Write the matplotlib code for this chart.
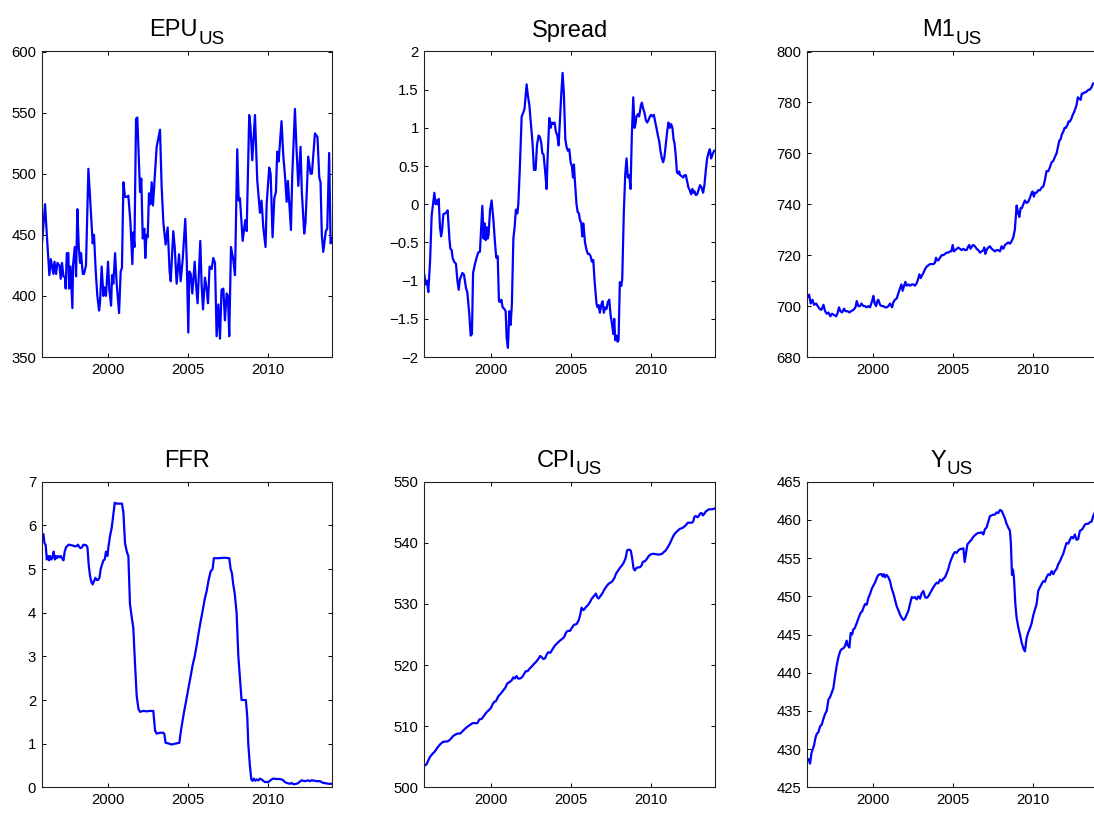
import matplotlib
matplotlib.use('Agg')
import matplotlib.pyplot as plt
from matplotlib.ticker import FuncFormatter
from matplotlib.transforms import offset_copy

plt.rcParams['font.family'] = 'Liberation Sans'

# Monthly macro series, dates in decimal years

epu_t = [1995.83, 1996.04, 1996.15, 1996.31, 1996.40, 1996.56, 1996.63, 1996.73, 1996.81, 1996.94,
         1997.02, 1997.10, 1997.19, 1997.29, 1997.33, 1997.40, 1997.50, 1997.54, 1997.63, 1997.75, 1997.79, 1997.90, 1997.98,
         1998.06, 1998.15, 1998.23, 1998.29, 1998.40, 1998.48, 1998.60, 1998.75, 1998.90,
         1999.02, 1999.10, 1999.21, 1999.31, 1999.42, 1999.48, 1999.58, 1999.69, 1999.75, 1999.85, 1999.98,
         2000.06, 2000.17, 2000.23, 2000.31, 2000.42, 2000.52, 2000.67, 2000.77, 2000.85, 2000.94,
         2001.04, 2001.15, 2001.25, 2001.38, 2001.50, 2001.56, 2001.63, 2001.73, 2001.81, 2001.94, 2001.98,
         2002.06, 2002.15, 2002.25, 2002.31, 2002.38, 2002.46, 2002.54, 2002.63, 2002.71, 2002.79, 2002.90,
         2003.02, 2003.23, 2003.33, 2003.44, 2003.58, 2003.71, 2003.83, 2003.90,
         2004.06, 2004.15, 2004.27, 2004.42, 2004.52, 2004.65, 2004.81, 2004.90,
         2005.00, 2005.06, 2005.15, 2005.25, 2005.40, 2005.48, 2005.58, 2005.75, 2005.83, 2005.92,
         2006.04, 2006.15, 2006.23, 2006.33, 2006.46, 2006.56, 2006.67, 2006.77, 2006.88, 2006.98,
         2007.08, 2007.19, 2007.29, 2007.40, 2007.48, 2007.56, 2007.67, 2007.81, 2007.92,
         2008.06, 2008.15, 2008.23, 2008.40, 2008.56, 2008.65, 2008.81, 2008.88,
         2009.00, 2009.17, 2009.31, 2009.48, 2009.58, 2009.69, 2009.83, 2009.90,
         2010.06, 2010.15, 2010.27, 2010.38, 2010.48, 2010.56, 2010.65, 2010.83, 2010.94,
         2011.06, 2011.15, 2011.23, 2011.42, 2011.50, 2011.67, 2011.77, 2011.88,
         2012.02, 2012.10, 2012.25, 2012.33, 2012.50, 2012.65, 2012.73, 2012.92,
         2013.08, 2013.19, 2013.27, 2013.35, 2013.44, 2013.60, 2013.69, 2013.81, 2013.90, 2014.00]
epu = [440, 475, 450, 417, 430, 418, 428, 418, 427, 425,
       414, 427, 416, 415, 406, 435, 435, 406, 424, 390, 425, 440, 416,
       471, 440, 427, 435, 418, 418, 425, 504, 470,
       443, 450, 420, 400, 388, 395, 424, 400, 407, 400, 428,
       405, 392, 417, 410, 435, 410, 386, 420, 423, 493,
       481, 481, 482, 460, 426, 452, 440, 545, 546, 500, 485,
       496, 447, 455, 431, 450, 448, 484, 475, 493, 474, 497,
       522, 536, 490, 460, 442, 456, 420, 412,
       453, 440, 410, 434, 412, 430, 463, 430,
       370, 420, 418, 402, 428, 410, 394, 445, 410, 389,
       415, 405, 394, 424, 422, 431, 427, 367, 393, 365,
       405, 406, 380, 402, 400, 367, 440, 430, 417,
       520, 478, 480, 445, 462, 453, 548, 540,
       511, 548, 495, 468, 478, 456, 440, 475,
       505, 500, 448, 480, 485, 518, 510, 543, 515,
       496, 477, 494, 454, 498, 553, 520, 490,
       522, 485, 451, 460, 514, 500, 500, 533,
       530, 497, 493, 450, 436, 453, 455, 517, 443, 447]

spread_t = [1995.83, 1995.92, 1996.00, 1996.08, 1996.19, 1996.29, 1996.40, 1996.46, 1996.54, 1996.60, 1996.67, 1996.73, 1996.81, 1996.88, 1996.94,
            1997.02, 1997.13, 1997.23, 1997.29, 1997.40, 1997.46, 1997.54, 1997.60, 1997.69, 1997.81, 1997.90, 1997.98,
            1998.06, 1998.21, 1998.31, 1998.44, 1998.52, 1998.65, 1998.73, 1998.81, 1998.88, 1998.98,
            1999.10, 1999.21, 1999.31, 1999.46, 1999.54, 1999.60, 1999.67, 1999.73, 1999.79, 1999.85, 1999.94,
            2000.04, 2000.15, 2000.25, 2000.33, 2000.42, 2000.50, 2000.58, 2000.65, 2000.73, 2000.83, 2000.92, 2000.98,
            2001.06, 2001.15, 2001.23, 2001.31, 2001.40, 2001.48, 2001.56, 2001.65, 2001.71, 2001.81, 2001.92,
            2002.02, 2002.10, 2002.23, 2002.31, 2002.40, 2002.48, 2002.60, 2002.69, 2002.79, 2002.88, 2002.98,
            2003.06, 2003.15, 2003.21, 2003.29, 2003.38, 2003.48, 2003.54, 2003.65, 2003.73, 2003.81, 2003.90, 2003.98,
            2004.06, 2004.15, 2004.23, 2004.31, 2004.40, 2004.48, 2004.56, 2004.65, 2004.73, 2004.81, 2004.90, 2004.98,
            2005.06, 2005.13, 2005.19, 2005.25, 2005.35, 2005.42, 2005.50, 2005.56, 2005.65, 2005.71, 2005.77, 2005.81, 2005.88, 2005.98,
            2006.06, 2006.15, 2006.23, 2006.31, 2006.40, 2006.48, 2006.60, 2006.67, 2006.73, 2006.81, 2006.92, 2006.98,
            2007.06, 2007.15, 2007.23, 2007.31, 2007.40, 2007.48, 2007.56, 2007.65, 2007.71, 2007.77, 2007.85, 2007.92, 2007.98,
            2008.06, 2008.15, 2008.21, 2008.31, 2008.40, 2008.48, 2008.56, 2008.65, 2008.73, 2008.81, 2008.90, 2008.98,
            2009.04, 2009.10, 2009.19, 2009.27, 2009.38, 2009.44, 2009.52, 2009.60, 2009.69, 2009.77, 2009.85, 2009.94,
            2010.02, 2010.10, 2010.19, 2010.27, 2010.35, 2010.44, 2010.52, 2010.60, 2010.69, 2010.77, 2010.85, 2010.94,
            2011.02, 2011.10, 2011.19, 2011.27, 2011.35, 2011.42, 2011.48, 2011.56, 2011.63, 2011.71, 2011.77, 2011.83, 2011.92,
            2012.02, 2012.10, 2012.19, 2012.27, 2012.35, 2012.44, 2012.52, 2012.60, 2012.67, 2012.73, 2012.81, 2012.90,
            2013.00, 2013.08, 2013.17, 2013.27, 2013.35, 2013.44, 2013.52, 2013.60, 2013.69, 2013.77, 2013.85, 2013.96]
spread = [-0.92, -1.05, -1.0, -1.15, -0.75, -0.15, 0.05, 0.15, 0.0, 0.05, 0.0, 0.07, -0.3, -0.42, -0.35,
          -0.13, -0.12, -0.1, -0.08, -0.45, -0.58, -0.6, -0.7, -0.75, -0.78, -1.0, -1.12,
          -0.98, -0.9, -0.92, -1.1, -1.15, -1.45, -1.72, -1.7, -0.9, -0.8,
          -0.7, -0.63, -0.62, -0.02, -0.45, -0.25, -0.47, -0.3, -0.45, -0.4, -0.08,
          0.05, -0.2, -0.5, -0.7, -0.68, -1.27, -1.28, -1.25, -1.35, -1.37, -1.4, -1.75,
          -1.88, -1.4, -1.58, -1.3, -0.45, -0.3, -0.07, -0.12, 0.0, 0.5, 1.15,
          1.2, 1.25, 1.57, 1.42, 1.3, 1.1, 0.8, 0.45, 0.45, 0.78, 0.9,
          0.88, 0.8, 0.67, 0.65, 0.45, 0.2, 0.6, 1.13, 1.0, 1.07, 1.05, 1.07,
          0.95, 0.9, 0.77, 1.1, 1.45, 1.72, 1.45, 0.85, 0.75, 0.7, 0.72, 0.55,
          0.5, 0.35, 0.52, 0.3, 0.0, -0.1, -0.12, -0.2, -0.25, -0.42, -0.25, -0.32, -0.5, -0.6,
          -0.65, -0.65, -0.68, -0.75, -0.73, -1.0, -1.3, -1.35, -1.32, -1.42, -1.3, -1.27,
          -1.42, -1.35, -1.37, -1.28, -1.25, -1.45, -1.55, -1.7, -1.5, -1.78, -1.72, -1.8, -1.78,
          -1.02, -1.07, -0.98, -0.1, 0.4, 0.6, 0.35, 0.38, 0.2, 0.9, 1.4, 1.0,
          1.05, 1.15, 1.18, 1.15, 1.3, 1.33, 1.25, 1.2, 1.1, 1.07, 1.1, 1.15,
          1.17, 1.15, 1.17, 1.08, 1.0, 0.9, 0.83, 0.7, 0.6, 0.55, 0.62, 0.8,
          0.95, 1.07, 1.0, 1.05, 1.0, 0.85, 0.8, 0.63, 0.42, 0.4, 0.43, 0.38, 0.37,
          0.35, 0.38, 0.38, 0.3, 0.22, 0.18, 0.13, 0.2, 0.15, 0.17, 0.12, 0.13,
          0.2, 0.25, 0.22, 0.15, 0.25, 0.45, 0.6, 0.67, 0.72, 0.6, 0.65, 0.7]

m1_t = [1995.83, 1995.98, 1996.08, 1996.19, 1996.29, 1996.42, 1996.52, 1996.63, 1996.75, 1996.88, 1996.98,
        1997.08, 1997.19, 1997.31, 1997.42, 1997.54, 1997.67, 1997.75, 1997.85, 1997.94,
        1998.04, 1998.17, 1998.25, 1998.38, 1998.50, 1998.60, 1998.75, 1998.88, 1998.96,
        1999.06, 1999.17, 1999.25, 1999.38, 1999.48, 1999.58, 1999.69, 1999.79, 1999.92,
        2000.00, 2000.08, 2000.17, 2000.25, 2000.31, 2000.42, 2000.52, 2000.63, 2000.73, 2000.83, 2000.94,
        2001.04, 2001.17, 2001.25, 2001.35, 2001.46, 2001.56, 2001.67, 2001.75, 2001.83, 2001.92,
        2002.00, 2002.08, 2002.19, 2002.29, 2002.40, 2002.50, 2002.60, 2002.71, 2002.79, 2002.88, 2002.96,
        2003.04, 2003.13, 2003.23, 2003.33, 2003.44, 2003.54, 2003.65, 2003.75, 2003.85, 2003.92, 2003.98,
        2004.06, 2004.17, 2004.27, 2004.38, 2004.48, 2004.58, 2004.69, 2004.79, 2004.88, 2004.96,
        2005.04, 2005.13, 2005.21, 2005.31, 2005.42, 2005.52, 2005.63, 2005.73, 2005.83, 2005.94,
        2006.00, 2006.08, 2006.17, 2006.25, 2006.35, 2006.46, 2006.56, 2006.67, 2006.77, 2006.88, 2006.94,
        2007.00, 2007.08, 2007.19, 2007.29, 2007.40, 2007.50, 2007.60, 2007.71, 2007.81, 2007.92,
        2008.02, 2008.13, 2008.23, 2008.33, 2008.44, 2008.54, 2008.65, 2008.75, 2008.85, 2008.96,
        2009.04, 2009.13, 2009.21, 2009.29, 2009.38, 2009.48, 2009.58, 2009.69, 2009.79, 2009.90, 2009.96,
        2010.04, 2010.10, 2010.21, 2010.31, 2010.42, 2010.52, 2010.63, 2010.73, 2010.83, 2010.94,
        2011.04, 2011.15, 2011.25, 2011.35, 2011.46, 2011.56, 2011.63, 2011.71, 2011.79, 2011.88, 2011.96,
        2012.04, 2012.13, 2012.21, 2012.29, 2012.38, 2012.46, 2012.54, 2012.63, 2012.71, 2012.79, 2012.88, 2012.96,
        2013.04, 2013.13, 2013.21, 2013.29, 2013.38, 2013.46, 2013.54, 2013.65, 2013.75, 2013.98]
m1 = [703, 704.5, 701, 702.5, 700.5, 701, 700, 699, 698.5, 700.5, 698,
      697, 697.5, 696, 697, 696.5, 696, 697, 699.5, 698,
      697.5, 699, 698, 698, 697.5, 698, 698.5, 699.5, 702,
      700, 700, 701, 700, 700, 699.5, 700, 699.5, 702,
      704, 701, 700, 702, 702.5, 700.5, 700, 700, 699.5, 699.5, 700,
      701, 699.5, 701.5, 702.5, 703, 705, 707, 708.5, 706, 708,
      709.5, 708, 708.5, 708, 708.5, 708.5, 708, 709, 710.5, 712.5, 711,
      712, 713, 714.5, 715.5, 716, 716.5, 716.5, 716.5, 717, 719, 718,
      718, 719, 720, 720, 720.5, 721, 721, 721.5, 721.5, 724,
      721.5, 722, 722.5, 723, 722.5, 722, 722.5, 722, 722, 723.5,
      724, 722.5, 723.5, 724, 723.5, 722.5, 722, 721, 721.5, 722, 723,
      720.5, 722, 723, 723.5, 722.5, 722, 721.5, 722, 722, 721.5,
      723.5, 722.5, 724, 724.5, 725, 724.5, 725.5, 727, 730, 739.5,
      737, 735, 738.5, 738.5, 740, 741.5, 740.5, 741, 742.5, 744.5, 745,
      743, 744.5, 744.5, 745.5, 745.5, 746.5, 747, 749.5, 753, 753,
      754.5, 756.5, 757, 758.5, 760, 763, 765, 765.5, 767.5, 768.5, 770,
      770, 771, 772.5, 772.5, 773.5, 775, 776, 777.5, 779, 782, 781.5, 781,
      783.5, 783.5, 784, 784, 784.5, 785, 785, 786, 787.5, 787]

ffr_t = [1995.83, 1995.94, 1996.00, 1996.08, 1996.15, 1996.23, 1996.29, 1996.35, 1996.44, 1996.52, 1996.58, 1996.65, 1996.71, 1996.77, 1996.85, 1996.94,
         1997.02, 1997.10, 1997.19, 1997.27, 1997.35, 1997.44, 1997.52, 1997.65, 1997.77, 1997.90,
         1998.02, 1998.10, 1998.19, 1998.27, 1998.35, 1998.44, 1998.52, 1998.60, 1998.69, 1998.77, 1998.85, 1998.94,
         1999.02, 1999.10, 1999.19, 1999.27, 1999.35, 1999.44, 1999.52, 1999.60, 1999.69, 1999.77, 1999.85, 1999.94,
         2000.00, 2000.10, 2000.21, 2000.31, 2000.40, 2000.52, 2000.65, 2000.77, 2000.85, 2000.94,
         2001.04, 2001.15, 2001.25, 2001.35, 2001.46, 2001.56, 2001.67, 2001.77, 2001.88, 2001.98,
         2002.19, 2002.40, 2002.60, 2002.81, 2002.92,
         2003.02, 2003.23, 2003.44, 2003.50, 2003.58, 2003.81, 2003.94,
         2004.19, 2004.44, 2004.52, 2004.65, 2004.77, 2004.90,
         2005.02, 2005.15, 2005.27, 2005.40, 2005.52, 2005.65, 2005.77, 2005.90,
         2006.02, 2006.15, 2006.27, 2006.40, 2006.52, 2006.60, 2006.90,
         2007.23, 2007.56, 2007.65, 2007.73, 2007.81, 2007.90,
         2008.02, 2008.13, 2008.23, 2008.33, 2008.60, 2008.69, 2008.75, 2008.85, 2008.94,
         2009.02, 2009.10, 2009.19, 2009.27, 2009.38, 2009.48, 2009.58, 2009.69, 2009.79,
         2010.00, 2010.10, 2010.21, 2010.31, 2010.52, 2010.73, 2010.83, 2010.94,
         2011.04, 2011.15, 2011.35, 2011.46, 2011.56, 2011.77, 2011.88, 2011.98,
         2012.08, 2012.29, 2012.50, 2012.60, 2012.71, 2012.92,
         2013.02, 2013.23, 2013.33, 2013.44, 2013.65, 2013.75, 2014.00]
ffr = [5.8, 5.8, 5.6, 5.55, 5.22, 5.3, 5.2, 5.3, 5.22, 5.3, 5.4, 5.22, 5.3, 5.25, 5.3, 5.27,
       5.3, 5.25, 5.2, 5.4, 5.5, 5.53, 5.56, 5.55, 5.54, 5.52,
       5.53, 5.56, 5.5, 5.48, 5.5, 5.56, 5.55, 5.55, 5.5, 5.1, 4.85, 4.7,
       4.65, 4.72, 4.8, 4.75, 4.75, 4.8, 5.0, 5.1, 5.2, 5.22, 5.4, 5.3,
       5.5, 5.75, 5.95, 6.25, 6.52, 6.5, 6.5, 6.5, 6.5, 6.3,
       5.6, 5.4, 5.3, 4.2, 3.9, 3.65, 2.8, 2.1, 1.8, 1.73,
       1.75, 1.74, 1.75, 1.75, 1.3,
       1.23, 1.25, 1.25, 1.22, 1.02, 1.0, 0.98,
       1.0, 1.02, 1.25, 1.55, 1.8, 2.05,
       2.3, 2.55, 2.8, 3.0, 3.25, 3.55, 3.8, 4.05,
       4.3, 4.5, 4.75, 4.95, 5.0, 5.25, 5.25,
       5.26, 5.25, 5.0, 4.9, 4.65, 4.45,
       4.0, 3.0, 2.5, 2.0, 2.0, 1.6, 1.0, 0.5, 0.18,
       0.15, 0.2, 0.15, 0.18, 0.16, 0.2, 0.18, 0.15, 0.12,
       0.12, 0.15, 0.18, 0.2, 0.19, 0.19, 0.18, 0.16,
       0.12, 0.1, 0.08, 0.1, 0.07, 0.08, 0.1, 0.13,
       0.16, 0.14, 0.16, 0.14, 0.16, 0.15,
       0.14, 0.14, 0.12, 0.1, 0.09, 0.08, 0.08]

cpi_t = [1995.83, 1995.98, 1996.08, 1996.19, 1996.35, 1996.50, 1996.65, 1996.81, 1996.98,
         1997.13, 1997.29, 1997.44, 1997.60, 1997.75, 1997.92,
         1998.08, 1998.23, 1998.38, 1998.52, 1998.69, 1998.85,
         1999.00, 1999.15, 1999.27, 1999.42, 1999.56, 1999.73, 1999.90,
         2000.00, 2000.10, 2000.21, 2000.31, 2000.46, 2000.60, 2000.75, 2000.90,
         2001.02, 2001.15, 2001.29, 2001.40, 2001.48, 2001.60, 2001.69, 2001.81, 2001.94,
         2002.06, 2002.17, 2002.29, 2002.44, 2002.56, 2002.69, 2002.81, 2002.96,
         2003.08, 2003.17, 2003.27, 2003.38, 2003.48, 2003.58, 2003.71, 2003.85,
         2004.00, 2004.15, 2004.31, 2004.46, 2004.58, 2004.69, 2004.79, 2004.94,
         2005.06, 2005.19, 2005.35, 2005.48, 2005.56, 2005.67, 2005.75, 2005.83, 2005.94,
         2006.06, 2006.19, 2006.31, 2006.44, 2006.56, 2006.65, 2006.73, 2006.85, 2006.98,
         2007.10, 2007.23, 2007.35, 2007.48, 2007.58, 2007.71, 2007.83, 2007.96,
         2008.06, 2008.19, 2008.31, 2008.42, 2008.52, 2008.65, 2008.75, 2008.83, 2008.92,
         2009.00, 2009.10, 2009.21, 2009.31, 2009.42, 2009.50, 2009.63, 2009.73, 2009.85, 2009.98,
         2010.10, 2010.25, 2010.40, 2010.56, 2010.69, 2010.81, 2010.94,
         2011.06, 2011.19, 2011.31, 2011.44, 2011.56, 2011.69, 2011.81, 2011.94,
         2012.06, 2012.19, 2012.31, 2012.44, 2012.56, 2012.65, 2012.73, 2012.81, 2012.92,
         2013.00, 2013.08, 2013.17, 2013.25, 2013.33, 2013.42, 2013.52, 2013.63, 2013.73, 2013.83, 2013.96]
cpi = [503.5, 503.8, 504.4, 505.0, 505.5, 505.9, 506.5, 507.0, 507.4,
       507.5, 507.5, 507.8, 508.3, 508.6, 508.8,
       508.8, 509.2, 509.6, 509.9, 510.2, 510.5,
       510.5, 510.5, 511.1, 511.2, 511.7, 512.3, 512.7,
       513.0, 513.6, 514.0, 514.1, 514.9, 515.3, 515.8, 516.3,
       517.0, 517.2, 517.5, 518.0, 517.8, 518.2, 517.8, 517.8, 518.0,
       518.5, 519.0, 519.0, 519.5, 519.8, 520.2, 520.5, 521.0,
       521.5, 521.3, 521.0, 521.1, 521.7, 522.1, 522.0, 522.6,
       523.2, 523.6, 524.0, 524.3, 524.6, 525.3, 525.6, 525.6,
       526.1, 526.6, 526.7, 527.3, 528.0, 529.4, 529.0, 529.1, 529.5,
       529.8, 530.3, 530.9, 531.3, 531.7, 531.1, 530.9, 531.3, 531.8,
       532.4, 532.9, 533.3, 533.5, 533.7, 534.2, 535.0, 535.5,
       535.9, 536.3, 536.8, 537.5, 538.8, 538.9, 538.7, 537.5, 535.8,
       535.5, 535.9, 536.0, 536.0, 536.3, 536.9, 537.0, 537.3, 537.8, 538.1,
       538.2, 538.2, 538.1, 538.1, 538.2, 538.5, 538.8,
       539.3, 539.9, 540.6, 541.3, 541.7, 542.0, 542.3, 542.4,
       542.6, 542.9, 543.3, 543.3, 543.3, 543.5, 544.3, 544.4, 544.2,
       544.4, 544.8, 544.9, 544.5, 544.7, 545.1, 545.3, 545.5, 545.5, 545.5, 545.6]

y_t = [1995.83, 1995.94, 1996.04, 1996.13, 1996.21, 1996.29, 1996.38, 1996.46, 1996.56, 1996.67, 1996.77, 1996.88, 1996.98,
       1997.08, 1997.19, 1997.29, 1997.40, 1997.50, 1997.60, 1997.71, 1997.81, 1997.92,
       1998.02, 1998.13, 1998.23, 1998.33, 1998.40, 1998.50, 1998.58, 1998.67, 1998.75, 1998.83, 1998.96,
       1999.08, 1999.21, 1999.29, 1999.38, 1999.48, 1999.58, 1999.69, 1999.79, 1999.90,
       2000.00, 2000.10, 2000.21, 2000.31, 2000.42, 2000.52, 2000.58, 2000.67, 2000.73, 2000.83, 2000.94,
       2001.04, 2001.15, 2001.25, 2001.35, 2001.46, 2001.56, 2001.67, 2001.77, 2001.88, 2001.98,
       2002.08, 2002.19, 2002.29, 2002.40, 2002.50, 2002.60, 2002.71, 2002.81, 2002.92,
       2003.02, 2003.13, 2003.23, 2003.33, 2003.44, 2003.54, 2003.65, 2003.75, 2003.85, 2003.96,
       2004.06, 2004.17, 2004.27, 2004.38, 2004.48, 2004.58, 2004.69, 2004.79, 2004.90,
       2005.00, 2005.10, 2005.21, 2005.31, 2005.42, 2005.52, 2005.63, 2005.71, 2005.79, 2005.88,
       2006.00, 2006.13, 2006.25, 2006.35, 2006.46, 2006.56, 2006.67, 2006.77, 2006.88, 2006.98,
       2007.08, 2007.19, 2007.29, 2007.40, 2007.50, 2007.60, 2007.71, 2007.81, 2007.92,
       2008.02, 2008.13, 2008.23, 2008.33, 2008.44, 2008.54, 2008.60, 2008.67, 2008.73, 2008.79, 2008.88, 2008.96,
       2009.06, 2009.17, 2009.27, 2009.38, 2009.48, 2009.58, 2009.69, 2009.79, 2009.90,
       2010.00, 2010.10, 2010.21, 2010.31, 2010.42, 2010.52, 2010.63, 2010.73, 2010.83, 2010.94,
       2011.04, 2011.15, 2011.25, 2011.35, 2011.46, 2011.56, 2011.67, 2011.77, 2011.88, 2011.98,
       2012.08, 2012.19, 2012.29, 2012.40, 2012.50, 2012.60, 2012.71, 2012.81, 2012.92,
       2013.02, 2013.13, 2013.23, 2013.33, 2013.44, 2013.54, 2013.65, 2013.75, 2013.85, 2013.98]
y = [428.4, 428.7, 428.1, 429.5, 430.0, 430.5, 431.5, 432.0, 432.2, 433.0, 433.2, 434.0, 434.6,
     435.0, 436.5, 436.8, 437.4, 438.0, 439.5, 441.0, 442.0, 442.8,
     443.1, 443.2, 443.5, 444.2, 443.6, 443.3, 445.2, 445.0, 445.7, 445.8, 446.5,
     447.2, 447.9, 448.0, 448.5, 449.0, 448.9, 449.8, 450.3, 451.0,
     451.4, 451.8, 452.4, 452.8, 452.9, 452.9, 452.6, 452.9, 452.5, 452.8, 452.5,
     452.0, 451.0, 450.4, 449.6, 448.7, 448.2, 447.6, 447.2, 446.9, 447.1,
     447.6, 448.1, 449.0, 449.9, 449.8, 449.9, 449.6, 450.0, 449.7,
     450.4, 450.7, 449.9, 449.8, 450.0, 450.4, 450.8, 451.2, 451.5, 451.8,
     451.7, 452.2, 452.0, 452.3, 452.5, 453.0, 453.6, 454.4, 455.0,
     455.5, 455.8, 455.7, 456.0, 456.2, 456.2, 456.3, 454.5, 455.6, 456.8,
     457.1, 457.4, 457.8, 458.0, 458.2, 458.3, 458.3, 458.4, 458.1, 458.8,
     459.0, 459.8, 460.5, 460.6, 460.7, 460.7, 461.0, 460.9, 461.3,
     461.2, 460.7, 460.2, 459.5, 459.0, 458.6, 457.0, 452.8, 453.5, 452.5, 449.0, 447.2,
     446.0, 445.0, 444.0, 443.2, 442.8, 444.5, 445.3, 445.8, 446.5,
     447.5, 448.2, 449.0, 450.7, 451.2, 451.6, 452.0, 451.9, 452.5, 452.9,
     452.8, 453.3, 452.9, 453.3, 453.6, 454.2, 454.6, 455.1, 455.6, 456.3,
     457.0, 456.9, 457.4, 457.8, 457.6, 458.1, 457.4, 457.5, 458.6,
     458.7, 459.0, 459.4, 459.5, 459.5, 459.7, 459.8, 460.5, 461.0, 461.3]

# panel titles as (name, subscript)
titles = [('EPU', 'US'), ('Spread', ''), ('M1', 'US'),
          ('FFR', ''), ('CPI', 'US'), ('Y', 'US')]
series = [(epu_t, epu), (spread_t, spread), (m1_t, m1),
          (ffr_t, ffr), (cpi_t, cpi), (y_t, y)]
ylims = [(350, 600), (-2, 2), (680, 800), (0, 7), (500, 550), (425, 465)]
ysteps = [50, 0.5, 20, 1, 10, 5]
xticks = [2000, 2005, 2010]

fig = plt.figure(figsize=(10.94, 8.13), dpi=100)
renderer = fig.canvas.get_renderer()

# 2x3 grid, pixel layout of the figure
lefts = [41.7, 424.3, 806.7]
bottoms = [357.0, 787.3]
w_px, h_px = 290.5, 305.5

fmt = FuncFormatter(lambda v, _: f'{v:g}'.replace('-', '\u2212'))

for i in range(6):
    row, col = divmod(i, 3)
    ax = fig.add_axes([lefts[col] / 1094, (813 - bottoms[row]) / 813, w_px / 1094, h_px / 813])
    t, v = series[i]
    ax.plot(t, v, color=(0, 0, 1), lw=1.6)
    ax.set_xlim(1995.83, 2014.0)
    lo, hi = ylims[i]
    ax.set_ylim(lo, hi)
    n = int(round((hi - lo) / ysteps[i]))
    ax.set_yticks([lo + k * ysteps[i] for k in range(n + 1)])
    ax.yaxis.set_major_formatter(fmt)
    ax.set_xticks(xticks)
    ax.tick_params(direction='in', top=True, right=(col < 2), length=3, width=0.7,
                   labelsize=10.7, pad=4, colors='black')
    for s in ax.spines.values():
        s.set_linewidth(0.8)
        s.set_color('#222222')

    # title with a lowered subscript, centred over the panel
    name, sub = titles[i]
    t1 = ax.text(0.5, 1.0, name, transform=offset_copy(ax.transAxes, fig=fig, y=15, units='dots'),
                 ha='left', va='baseline', fontsize=17)
    w1 = t1.get_window_extent(renderer).width
    w2 = 0.0
    if sub:
        t2 = ax.text(0.5, 1.0, sub, transform=offset_copy(ax.transAxes, fig=fig, y=8, units='dots'),
                     ha='left', va='baseline', fontsize=13.5)
        w2 = t2.get_window_extent(renderer).width
    x0 = 0.5 - (w1 + w2) / 2 / w_px
    t1.set_x(x0)
    if sub:
        t2.set_x(x0 + w1 / w_px)

fig.savefig('out.png', dpi=100)
